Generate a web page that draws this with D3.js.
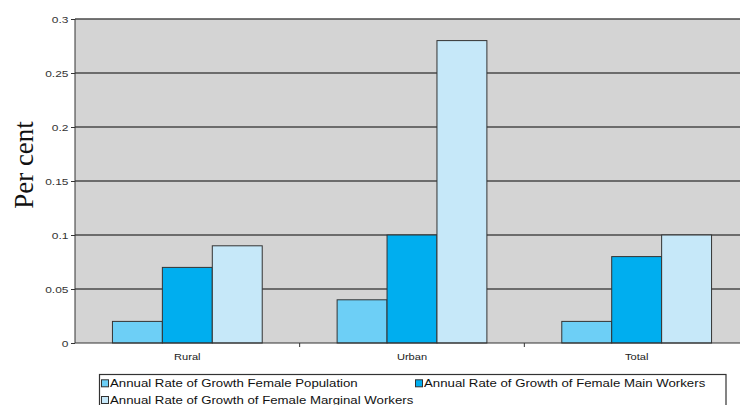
<!DOCTYPE html>
<html><head><meta charset="utf-8">
<script src="https://cdn.jsdelivr.net/npm/d3@7"></script>
<style>body{margin:0;background:#fff}svg{display:block}</style>
</head><body>
<svg id="c" width="740" height="405"></svg>
<script>
const categories = ["Rural", "Urban", "Total"];
const seriesNames = ["Annual Rate of Growth Female Population", "Annual Rate of Growth of Female Main Workers", "Annual Rate of Growth of Female Marginal Workers"];
const femalePopulation = [0.02, 0.04, 0.02];
const mainWorkers = [0.07, 0.10, 0.08];
const marginalWorkers = [0.09, 0.28, 0.10];
const yTicks = [0, 0.05, 0.1, 0.15, 0.2, 0.25, 0.3];
const colors = ["#6dcff6", "#00aeef", "#c6e8f9"];

const series = [femalePopulation, mainWorkers, marginalWorkers];
const svg = d3.select("#c");
const L = 75, R = 749, T = 19, B = 343;
const SX = 1.26;
const FONT = "Liberation Sans, Arial, sans-serif";

const x = d3.scaleBand().domain(categories).range([L, R]).paddingInner(0).paddingOuter(0);
const xi = d3.scaleBand().domain(d3.range(3)).range([0, x.bandwidth()]).paddingOuter(0.75).paddingInner(0);
const y = d3.scaleLinear().domain([0, 0.3]).range([B, T]);

svg.append("rect").attr("x", L).attr("y", T).attr("width", R - L).attr("height", B - T).attr("fill", "#d4d4d4");

svg.append("g").selectAll("line").data(yTicks.slice(1)).join("line")
  .attr("x1", L).attr("x2", R).attr("y1", d => y(d)).attr("y2", d => y(d))
  .attr("stroke", "#4a4a4a").attr("stroke-width", 1.6);

const g = svg.append("g");
categories.forEach((c, ci) => {
  series.forEach((s, si) => {
    g.append("rect")
      .attr("x", x(c) + xi(si)).attr("width", xi.bandwidth())
      .attr("y", y(s[ci])).attr("height", y(0) - y(s[ci]))
      .attr("fill", colors[si]).attr("stroke", "#333").attr("stroke-width", 1);
  });
});

const ya = svg.append("g").attr("transform", `translate(${L},0)`)
  .call(d3.axisLeft(y).tickValues(yTicks).tickSize(4).tickFormat(d => d3.format("")(d)));
ya.select(".domain").attr("stroke", "#333").attr("d", `M0,${T}V${B}`);
ya.selectAll(".tick line").attr("stroke", "#333");
ya.selectAll("text").attr("font-family", FONT).attr("font-size", 9.5).attr("fill", "#333")
  .attr("x", 0).attr("transform", `translate(-6.5,0) scale(${SX},1)`);

const xa = svg.append("g").attr("transform", `translate(0,${B})`)
  .call(d3.axisBottom(x).tickSize(0).tickPadding(11));
xa.select(".domain").attr("stroke", "#333").attr("d", `M${L},0H${R}`);
xa.selectAll("text").attr("font-family", FONT).attr("font-size", 8.8).attr("fill", "#222")
  .attr("x", 0).attr("transform", `scale(${SX},1)`);
svg.append("g").selectAll("line").data(categories.slice(1)).join("line")
  .attr("x1", d => x(d)).attr("x2", d => x(d)).attr("y1", B).attr("y2", B + 4).attr("stroke", "#333");

svg.append("text").attr("transform", "translate(33,165) rotate(-90)").attr("text-anchor", "middle")
  .attr("font-family", "Liberation Serif, Times New Roman, serif").attr("font-size", 27).attr("fill", "#111").text("Per cent");

const lg = svg.append("g");
lg.append("rect").attr("x", 99.5).attr("y", 374.5).attr("width", 626.5).attr("height", 60).attr("fill", "#fff").attr("stroke", "#333").attr("stroke-width", 1.2);
const pos = [[101, 387.3], [415, 387.3], [101, 404]];
seriesNames.forEach((n, i) => {
  lg.append("rect").attr("x", pos[i][0] + 0.5).attr("y", pos[i][1] - 7.5).attr("width", 7).attr("height", 7)
    .attr("fill", colors[i]).attr("stroke", "#333").attr("stroke-width", 1);
  lg.append("text").attr("x", 0).attr("y", 0)
    .attr("transform", `translate(${pos[i][0] + 9},${pos[i][1]}) scale(${SX},1)`)
    .attr("font-family", FONT).attr("font-size", 10.5).attr("fill", "#111").text(n);
});
</script>
</body></html>
